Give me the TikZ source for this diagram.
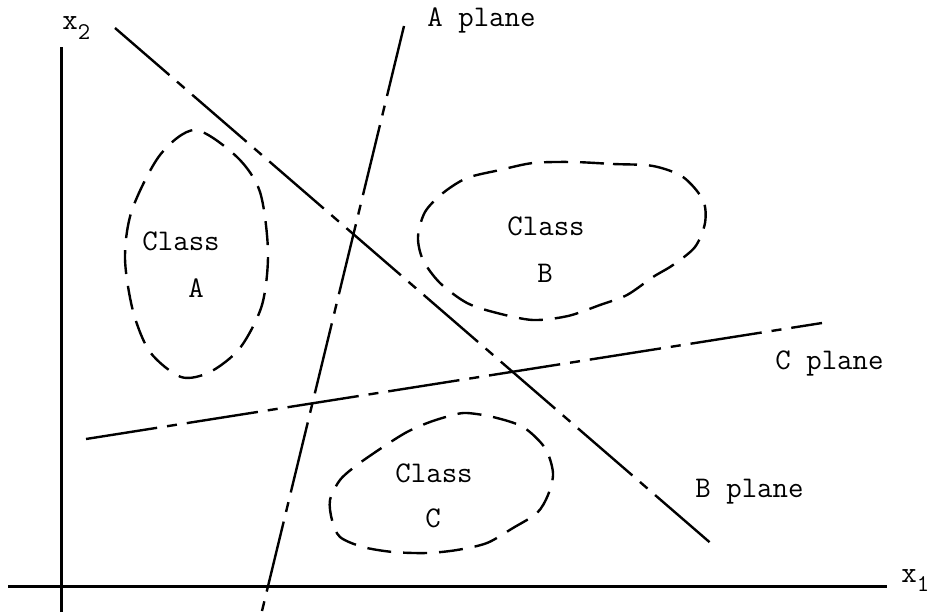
\documentclass[tikz,border=0pt]{standalone}
\begin{document}
\begin{tikzpicture}[x=0.5pt, y=-0.5pt,
        font=\ttfamily\fontsize{15}{18}\selectfont,
        axis/.style={line width=1.5pt},
        planeline/.style={line width=1.2pt, dash pattern=on 36pt off 5pt on 5pt off 5pt},
        classcurve/.style={line width=1.2pt, dash pattern=on 12pt off 6pt}]
        \useasboundingbox (0,0) rectangle (938,615);

        % axes
        \coordinate (X0) at (8,586);
        \coordinate (X1) at (887,586);
        \coordinate (Y0) at (61,612);
        \coordinate (Y1) at (61,47);
        \draw[axis] (X0) -- (X1);
        \draw[axis] (Y0) -- (Y1);
        \node [anchor=base west, inner sep=0pt] (xone) at (901,582) {x\raisebox{-0.7ex}{\fontsize{12}{14}\selectfont 1}};
        \node [anchor=base west, inner sep=0pt] (xtwo) at (62,30) {x\raisebox{-0.7ex}{\fontsize{12}{14}\selectfont 2}};

        % planes
        \coordinate (A0) at (262,611);
        \coordinate (A1) at (404,26);
        \coordinate (B0) at (115,28);
        \coordinate (B1) at (714,546);
        \coordinate (C0) at (86,439);
        \coordinate (C1) at (822,323);
        \draw[planeline] (A1) -- (A0);
        \draw[planeline] (B0) -- (B1);
        \draw[planeline] (C0) -- (C1);
        \node [anchor=base west, inner sep=0pt] (Aplane) at (427,27) {A plane};
        \node [anchor=base west, inner sep=0pt] (Bplane) at (695,497) {B plane};
        \node [anchor=base west, inner sep=0pt] (Cplane) at (775,369) {C plane};

        % classes
        \draw[classcurve] plot[smooth cycle] coordinates {(195,130) (237,157) (260,192) (268,252)
            (262,305) (240,348) (210,372) (181,377) (150,352) (133,311) (125,258) (132,210) (160,155)};
        \draw[classcurve] plot[smooth cycle] coordinates {(573,162) (613,164) (653,166) (683,177)
            (703,200) (705,223) (695,247) (673,265) (653,277) (627,295) (600,305) (568,316) (533,320)
            (497,313) (467,303) (440,283) (423,260) (418,237) (425,212) (443,193) (467,178) (500,170) (533,163)};
        \draw[classcurve] plot[smooth cycle] coordinates {(467,413) (493,417) (523,427) (545,448)
            (553,473) (548,495) (537,513) (513,528) (487,543) (457,550) (427,553) (393,552) (363,547)
            (340,537) (332,520) (330,500) (340,480) (357,465) (383,447) (407,432) (430,422) (453,415)};
        \node [anchor=base west, inner sep=0pt] (clsA) at (142,250) {Class};
        \node [anchor=base west, inner sep=0pt] (nameA) at (188,297) {A};
        \node [anchor=base west, inner sep=0pt] (clsB) at (507,235) {Class};
        \node [anchor=base west, inner sep=0pt] (nameB) at (537,283) {B};
        \node [anchor=base west, inner sep=0pt] (clsC) at (395,482) {Class};
        \node [anchor=base west, inner sep=0pt] (nameC) at (425,527) {C};
    \end{tikzpicture}
\end{document}
